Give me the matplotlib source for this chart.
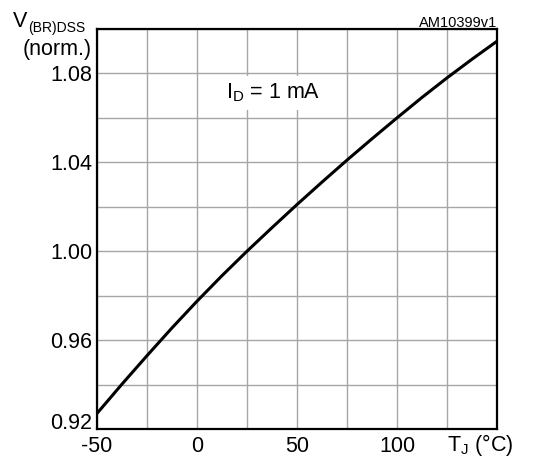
import matplotlib
matplotlib.use('Agg')
import matplotlib.pyplot as plt

# junction temperature (degC) and normalized breakdown voltage
temp = [-50, -37.5, -25, -12.5, 0, 12.5, 25, 37.5, 50, 62.5, 75, 87.5, 100, 112.5, 125, 137.5, 150]
vbr_norm = [0.927, 0.9402, 0.953, 0.9655, 0.9775, 0.989, 1.000, 1.0106, 1.021, 1.0311, 1.041, 1.0506,
            1.060, 1.0692, 1.078, 1.0864, 1.0945]

x_ticks = [-50, 0, 50, 100]
y_ticks = [0.92, 0.96, 1.00, 1.04, 1.08]

plt.rcParams['font.family'] = ['Liberation Sans', 'DejaVu Sans']
plt.rcParams['mathtext.fontset'] = 'custom'
plt.rcParams['mathtext.rm'] = 'Liberation Sans'
plt.rcParams['mathtext.it'] = 'Liberation Sans'

W, H = 537, 458
fig = plt.figure(figsize=(W / 100, H / 100), dpi=100)
ax = fig.add_axes([97 / W, 1 - 429 / H, 400 / W, 400 / H])

ax.plot(temp, vbr_norm, color='black', lw=2.2, solid_capstyle='butt', zorder=3)

ax.set_xlim(-50, 150)
ax.set_ylim(0.92, 1.10)
ax.set_xticks([x for x in range(-50, 151, 25)], minor=True)
ax.set_yticks([0.92 + 0.02 * i for i in range(10)], minor=True)
ax.set_xticks(x_ticks)
ax.set_yticks(y_ticks)
ax.set_xticklabels([str(x) for x in x_ticks])
ax.set_yticklabels(['%.2f' % y for y in y_ticks])
ax.grid(True, which='both', color='#a6a6a6', lw=1.0, zorder=0)
ax.tick_params(which='both', length=0, labelsize=15.5)
ax.tick_params(axis='y', pad=3.5)
ax.tick_params(axis='x', pad=5)
for s in ax.spines.values():
    s.set_linewidth(1.6)
# lowest y label sits on the axis line, clear of the -50 label
ax.get_yticklabels()[0].set_verticalalignment('baseline')

ax.text(0.44, 0.84, r'I$_\mathrm{D}$ = 1 mA', transform=ax.transAxes, fontsize=15.5,
        ha='center', va='center', bbox=dict(facecolor='white', edgecolor='none', pad=4), zorder=2)

# y axis title, drawn in pieces so the subscript sits like the original
fig.text(92 / W, 1 - 50 / H, '(norm.)', ha='right', va='center', fontsize=15.5)
fig.text(27 / W, 1 - 27 / H, 'V', ha='right', va='baseline', fontsize=15.5)
fig.text(28 / W, 1 - 32 / H, '(BR)DSS', ha='left', va='baseline', fontsize=10)
fig.text(497 / W, 1 - 27 / H, 'AM10399v1', ha='right', va='baseline', fontsize=10.5)
fig.text(480 / W, 1 - 445 / H, r'T$_\mathrm{J}$ (°C)', ha='center', va='center', fontsize=15.5)

fig.savefig('out.png', dpi=100)
